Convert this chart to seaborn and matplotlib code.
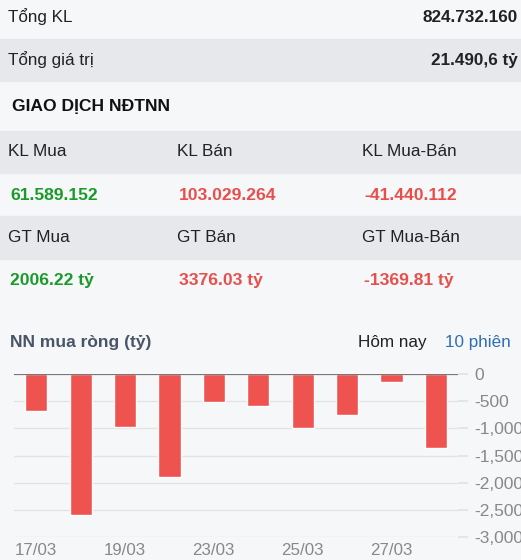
import matplotlib
matplotlib.use("Agg")
import matplotlib.pyplot as plt
from matplotlib.patches import Rectangle
from matplotlib.ticker import FuncFormatter
import pandas as pd
import seaborn as sns

# summary table
total_labels = ["Tổng KL", "Tổng giá trị"]
total_values = ["824.732.160", "21.490,6 tỷ"]
section_title = "GIAO DỊCH NĐTNN"
kl_headers = ["KL Mua", "KL Bán", "KL Mua-Bán"]
kl_values = ["61.589.152", "103.029.264", "-41.440.112"]
gt_headers = ["GT Mua", "GT Bán", "GT Mua-Bán"]
gt_values = ["2006.22 tỷ", "3376.03 tỷ", "-1369.81 tỷ"]

# foreign net buy, last 10 sessions (ty dong)
dates = ["17/03", "18/03", "19/03", "20/03", "23/03",
         "24/03", "25/03", "26/03", "27/03", "30/03"]
net_buy = [-680, -2600, -980, -1900, -510, -580, -1000, -750, -155, -1369.81]
y_ticks = [0, -500, -1000, -1500, -2000, -2500, -3000]

sns.set_theme(style="white")
plt.rcParams["font.family"] = ["Liberation Sans", "DejaVu Sans"]

W, H = 521, 560
bg = "#f6f7f9"
band = "#e6e8ec"
green = "#1b9a2a"
red = "#e84f4c"

fig = plt.figure(figsize=(W / 100, H / 100), dpi=100, facecolor=bg)


def fy(py):
    return 1 - py / H


def fx(px):
    return px / W


# gray bands behind alternate rows
for top, bot in [(39, 81), (131, 173), (216, 259)]:
    fig.patches.append(Rectangle((0, fy(bot)), 1, (bot - top) / H,
                                 transform=fig.transFigure, color=band, zorder=0))

fig.text(fx(8), fy(17), total_labels[0], fontsize=12.3, color="#222", va="center")
fig.text(fx(518), fy(17), total_values[0], fontsize=12.3, color="#222",
         va="center", ha="right", fontweight="bold")
fig.text(fx(8), fy(60), total_labels[1], fontsize=12.3, color="#222", va="center")
fig.text(fx(518), fy(60), total_values[1], fontsize=12.3, color="#222",
         va="center", ha="right", fontweight="bold")
fig.text(fx(12), fy(106), section_title, fontsize=12.6, color="#111",
         va="center", fontweight="bold")

col_x = [8, 177, 362]
val_colors = [green, red, red]
for i in range(3):
    fig.text(fx(col_x[i]), fy(152), kl_headers[i], fontsize=12.3, color="#222", va="center")
    fig.text(fx(col_x[i] + 2), fy(195), kl_values[i], fontsize=12.6,
             color=val_colors[i], va="center", fontweight="bold")
    fig.text(fx(col_x[i]), fy(237), gt_headers[i], fontsize=12.3, color="#222", va="center")
    fig.text(fx(col_x[i] + 2), fy(280), gt_values[i], fontsize=12.6,
             color=val_colors[i], va="center", fontweight="bold")

fig.text(fx(10), fy(342), "NN mua ròng (tỷ)", fontsize=12.5, color="#4a5568",
         va="center", fontweight="bold")
fig.text(fx(358), fy(342), "Hôm nay", fontsize=12.3, color="#222", va="center")
fig.text(fx(445), fy(342), "10 phiên", fontsize=12.3, color="#2f6db5", va="center")

# bar chart
ax = fig.add_axes([fx(14), fy(537), (458 - 14) / W, (537 - 374) / H])
ax.set_facecolor(bg)
df = pd.DataFrame({"date": dates, "value": net_buy})
sns.barplot(data=df, x="date", y="value", color="#ef5350", saturation=1,
            width=0.5, ax=ax, zorder=3)
ax.set_xlim(-0.5, len(dates) - 0.5)
ax.set_ylim(-3000, 0)
ax.set_yticks(y_ticks)
ax.yaxis.tick_right()
ax.yaxis.set_major_formatter(FuncFormatter(lambda v, p: f"{int(v):,}"))
ax.tick_params(axis="y", length=7, color="#e3e3e3", labelsize=12.5,
               labelcolor="#888888", pad=5)
ax.set_xticks(range(0, len(dates), 2))
ax.set_xticklabels(dates[::2])
ax.tick_params(axis="x", length=0, labelsize=12.2, labelcolor="#888888", pad=4)
ax.set_xlabel("")
ax.set_ylabel("")
for yv in y_ticks[1:]:
    ax.axhline(yv, color="#e3e3e3", lw=1, zorder=1)
ax.axhline(0, color="#777777", lw=1.6, zorder=4)
for s in ax.spines.values():
    s.set_visible(False)

fig.savefig("out.png", dpi=100, facecolor=bg)
